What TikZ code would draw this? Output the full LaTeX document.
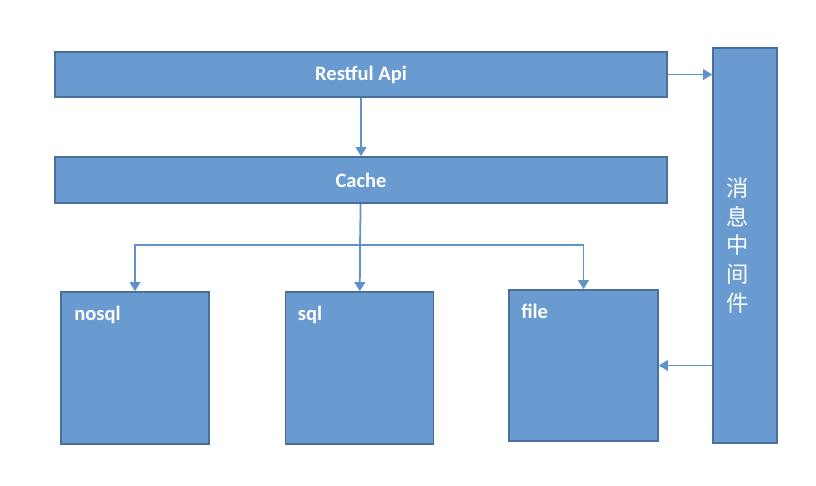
\documentclass[tikz,border=0pt]{standalone}
\usepackage{fontspec}
\setmainfont{Carlito}
\newfontfamily\cjk{Noto Sans CJK SC}
\usetikzlibrary{arrows.meta}
\definecolor{boxfill}{RGB}{106,155,208}
\definecolor{boxline}{RGB}{74,111,156}
\definecolor{arrowline}{RGB}{96,145,203}

\begin{document}
\begin{tikzpicture}[x=0.03cm,y=-0.03cm]
\useasboundingbox (0,0) rectangle (816,486);
\begin{scope}[every node/.style={rectangle,draw=boxline,fill=boxfill,line width=1.4pt,text=white,inner sep=0pt,font=\bfseries\fontsize{17.5}{20}\selectfont}]
    \node (api) at (361,74.5) [minimum width=18.36cm,minimum height=1.35cm] {Restful Api};
    \node (cache) at (361,180) [minimum width=18.36cm,minimum height=1.38cm] {Cache};

    \node (mq) at (745,245.5) [minimum width=1.92cm,minimum height=11.85cm,
        label={[draw=none,fill=none,align=center,xshift=-0.22cm,
        font=\cjk\fontsize{19}{24.7}\selectfont]center:消\\息\\中\\间\\件}] {};

    \node (nosql) at (135,368) [minimum width=4.44cm,minimum height=4.56cm,
        label={[anchor=north west,draw=none,fill=none,xshift=0.4cm,yshift=-0.42cm]north west:nosql}] {};
    \node (sql) at (359.5,368) [minimum width=4.44cm,minimum height=4.56cm,
        label={[anchor=north west,draw=none,fill=none,xshift=0.37cm,yshift=-0.42cm]north west:sql}] {};
    \node (file) at (583.5,365.5) [minimum width=4.47cm,minimum height=4.53cm,
        label={[anchor=north west,draw=none,fill=none,xshift=0.37cm,yshift=-0.42cm]north west:file}] {};
\end{scope}

\coordinate (split) at (360,245);

\begin{scope}[>={Triangle[length=0.27cm,width=0.32cm]},
              every path/.style={draw=arrowline,line width=1.5pt}]
    \path [->] (api) -- (cache);
    \path [->] (api.east) -- (api.east -| mq.west);

    \path (cache) -- (split);
    \path [->] (split) -| (nosql);
    \path [->] (split) -- (sql);
    \path [->] (split) -| (file);

    \path [->] (file.east -| mq.west) -- (file.east);
\end{scope}
\end{tikzpicture}
\end{document}
